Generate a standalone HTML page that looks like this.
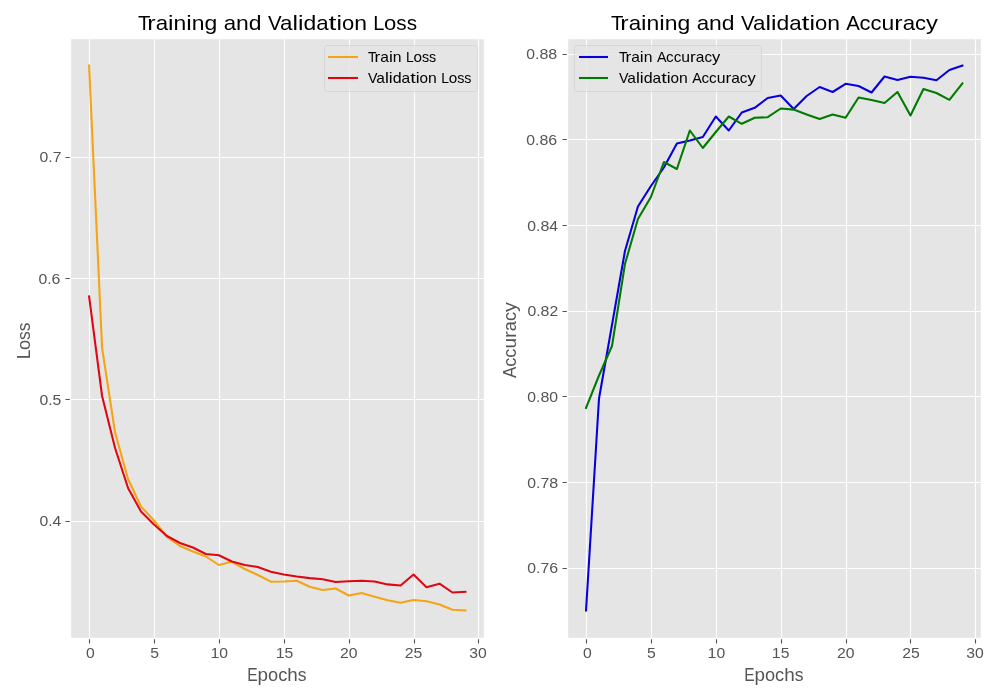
<!DOCTYPE html>
<html lang="en"><head><meta charset="utf-8"><title>Training and Validation Curves</title>
<style>html,body{margin:0;padding:0;background:#fff;}body{width:1000px;height:700px;overflow:hidden;}svg{display:block;will-change:transform;}text{font-family:"Liberation Sans",sans-serif;}</style>
</head><body>
<svg width="1000" height="700" viewBox="0 0 1000 700" role="img" aria-label="Training and validation loss and accuracy curves">
<rect x="0" y="0" width="1000" height="700" fill="#ffffff"/>
<g id="axes1">
<rect x="71.19" y="39.19" width="412.62" height="598.62" fill="#E5E5E5"/>
<path d="M89.5 39.19V637.81M154.5 39.19V637.81M219.5 39.19V637.81M284.5 39.19V637.81M349.5 39.19V637.81M414.5 39.19V637.81M478.5 39.19V637.81M71.19 157.5H483.81M71.19 278.5H483.81M71.19 399.5H483.81M71.19 521.5H483.81" stroke="#ffffff" stroke-width="1.11" fill="none"/>
<path d="M89.5 639.19V643.5M154.5 639.19V643.5M219.5 639.19V643.5M284.5 639.19V643.5M349.5 639.19V643.5M414.5 639.19V643.5M478.5 639.19V643.5M65.49 157.5H69.81M65.49 278.5H69.81M65.49 399.5H69.81M65.49 521.5H69.81" stroke="#555555" stroke-width="1.11" fill="none"/>
<clipPath id="clip0"><rect x="71.19" y="39.19" width="412.62" height="598.62"/></clipPath>
<g clip-path="url(#clip0)" fill="none" stroke-width="2.08" stroke-linejoin="round" stroke-linecap="square">
<polyline points="89.10,65.57 102.08,348.00 115.06,432.50 128.03,479.00 141.01,506.50 153.99,520.50 166.97,537.00 179.95,546.00 192.92,551.50 205.90,556.50 218.88,565.00 231.86,561.80 244.84,569.00 257.81,575.00 270.79,581.70 283.77,581.50 296.75,580.70 309.73,586.80 322.70,590.00 335.68,588.50 348.66,595.50 361.64,593.00 374.62,596.80 387.59,600.20 400.57,602.80 413.55,600.00 426.53,601.30 439.51,604.50 452.48,609.80 465.46,610.48" stroke="#F5A414"/>
<polyline points="89.10,296.50 102.08,396.00 115.06,448.00 128.03,488.00 141.01,511.50 153.99,524.50 166.97,536.00 179.95,543.00 192.92,547.50 205.90,554.00 218.88,555.30 231.86,561.50 244.84,565.00 257.81,567.00 270.79,571.80 283.77,574.50 296.75,576.50 309.73,578.10 322.70,579.30 335.68,582.00 348.66,581.20 361.64,580.80 374.62,581.50 387.59,584.40 400.57,585.50 413.55,574.50 426.53,587.20 439.51,583.70 452.48,592.50 465.46,591.80" stroke="#DE0814"/>
</g>
<rect x="324.5" y="45.5" width="153.00" height="46.00" rx="2.78" ry="2.78" fill="#E5E5E5" fill-opacity="0.8" stroke="#CCCCCC" stroke-opacity="0.8" stroke-width="0.69"/>
<path d="M329.04 57.00H356.96" stroke="#F5A414" stroke-width="2.08" stroke-linecap="square" fill="none"/>
<text y="61.90" font-size="14.2" fill="#000000"><tspan x="368.08" textLength="8.50" lengthAdjust="spacingAndGlyphs">T</tspan><tspan x="374.58" textLength="5.75" lengthAdjust="spacingAndGlyphs">r</tspan><tspan x="380.33" textLength="8.63" lengthAdjust="spacingAndGlyphs">a</tspan><tspan x="388.96" textLength="3.87" lengthAdjust="spacingAndGlyphs">i</tspan><tspan x="392.83" textLength="8.75" lengthAdjust="spacingAndGlyphs">n</tspan><tspan x="405.96" textLength="7.74" lengthAdjust="spacingAndGlyphs">L</tspan><tspan x="413.46" textLength="8.50" lengthAdjust="spacingAndGlyphs">o</tspan><tspan x="421.96" textLength="7.12" lengthAdjust="spacingAndGlyphs">s</tspan><tspan x="429.08" textLength="7.12" lengthAdjust="spacingAndGlyphs">s</tspan></text>
<path d="M329.04 78.00H356.96" stroke="#DE0814" stroke-width="2.08" stroke-linecap="square" fill="none"/>
<text y="82.85" font-size="14.2" fill="#000000"><tspan x="367.93" textLength="9.50" lengthAdjust="spacingAndGlyphs">V</tspan><tspan x="376.31" textLength="8.62" lengthAdjust="spacingAndGlyphs">a</tspan><tspan x="384.93" textLength="3.88" lengthAdjust="spacingAndGlyphs">l</tspan><tspan x="388.81" textLength="3.87" lengthAdjust="spacingAndGlyphs">i</tspan><tspan x="392.68" textLength="8.87" lengthAdjust="spacingAndGlyphs">d</tspan><tspan x="401.55" textLength="8.63" lengthAdjust="spacingAndGlyphs">a</tspan><tspan x="410.18" textLength="5.50" lengthAdjust="spacingAndGlyphs">t</tspan><tspan x="415.68" textLength="3.87" lengthAdjust="spacingAndGlyphs">i</tspan><tspan x="419.55" textLength="8.50" lengthAdjust="spacingAndGlyphs">o</tspan><tspan x="428.05" textLength="8.76" lengthAdjust="spacingAndGlyphs">n</tspan><tspan x="441.18" textLength="7.75" lengthAdjust="spacingAndGlyphs">L</tspan><tspan x="448.68" textLength="8.50" lengthAdjust="spacingAndGlyphs">o</tspan><tspan x="457.18" textLength="7.13" lengthAdjust="spacingAndGlyphs">s</tspan><tspan x="464.31" textLength="7.12" lengthAdjust="spacingAndGlyphs">s</tspan></text>
<text y="658.00" font-size="14.2" fill="#555555"><tspan x="86.07" textLength="8.75" lengthAdjust="spacingAndGlyphs">0</tspan></text>
<text y="658.20" font-size="14.2" fill="#555555"><tspan x="150.16" textLength="8.75" lengthAdjust="spacingAndGlyphs">5</tspan></text>
<text y="657.75" font-size="14.2" fill="#555555"><tspan x="210.42" textLength="8.88" lengthAdjust="spacingAndGlyphs">1</tspan><tspan x="219.30" textLength="8.74" lengthAdjust="spacingAndGlyphs">0</tspan></text>
<text y="658.00" font-size="14.2" fill="#555555"><tspan x="275.66" textLength="8.88" lengthAdjust="spacingAndGlyphs">1</tspan><tspan x="284.54" textLength="8.74" lengthAdjust="spacingAndGlyphs">5</tspan></text>
<text y="657.80" font-size="14.2" fill="#555555"><tspan x="339.91" textLength="8.75" lengthAdjust="spacingAndGlyphs">2</tspan><tspan x="348.66" textLength="8.75" lengthAdjust="spacingAndGlyphs">0</tspan></text>
<text y="658.05" font-size="14.2" fill="#555555"><tspan x="404.85" textLength="8.75" lengthAdjust="spacingAndGlyphs">2</tspan><tspan x="413.60" textLength="8.75" lengthAdjust="spacingAndGlyphs">5</tspan></text>
<text y="658.00" font-size="14.2" fill="#555555"><tspan x="469.39" textLength="8.75" lengthAdjust="spacingAndGlyphs">3</tspan><tspan x="478.14" textLength="8.75" lengthAdjust="spacingAndGlyphs">0</tspan></text>
<text y="162.30" font-size="14.2" fill="#555555"><tspan x="39.63" textLength="8.75" lengthAdjust="spacingAndGlyphs">0</tspan><tspan x="48.38" textLength="4.37" lengthAdjust="spacingAndGlyphs">.</tspan><tspan x="52.75" textLength="8.76" lengthAdjust="spacingAndGlyphs">7</tspan></text>
<text y="284.00" font-size="14.2" fill="#555555"><tspan x="38.41" textLength="8.75" lengthAdjust="spacingAndGlyphs">0</tspan><tspan x="47.16" textLength="4.37" lengthAdjust="spacingAndGlyphs">.</tspan><tspan x="51.53" textLength="8.88" lengthAdjust="spacingAndGlyphs">6</tspan></text>
<text y="405.30" font-size="14.2" fill="#555555"><tspan x="39.43" textLength="8.75" lengthAdjust="spacingAndGlyphs">0</tspan><tspan x="48.18" textLength="4.37" lengthAdjust="spacingAndGlyphs">.</tspan><tspan x="52.55" textLength="8.76" lengthAdjust="spacingAndGlyphs">5</tspan></text>
<text y="525.90" font-size="14.2" fill="#555555"><tspan x="39.43" textLength="8.75" lengthAdjust="spacingAndGlyphs">0</tspan><tspan x="48.18" textLength="4.37" lengthAdjust="spacingAndGlyphs">.</tspan><tspan x="52.55" textLength="8.76" lengthAdjust="spacingAndGlyphs">4</tspan></text>
<text y="680.50" font-size="17.6" fill="#555555"><tspan x="247.19" textLength="10.38" lengthAdjust="spacingAndGlyphs">E</tspan><tspan x="257.57" textLength="10.50" lengthAdjust="spacingAndGlyphs">p</tspan><tspan x="268.07" textLength="10.12" lengthAdjust="spacingAndGlyphs">o</tspan><tspan x="278.19" textLength="9.12" lengthAdjust="spacingAndGlyphs">c</tspan><tspan x="287.31" textLength="10.50" lengthAdjust="spacingAndGlyphs">h</tspan><tspan x="297.81" textLength="8.76" lengthAdjust="spacingAndGlyphs">s</tspan></text>
<text transform="translate(30.00,359.04) rotate(-90)" y="0" font-size="17.6" fill="#555555"><tspan x="0.00" textLength="9.25" lengthAdjust="spacingAndGlyphs">L</tspan><tspan x="9.00" textLength="10.12" lengthAdjust="spacingAndGlyphs">o</tspan><tspan x="19.12" textLength="8.76" lengthAdjust="spacingAndGlyphs">s</tspan><tspan x="27.88" textLength="8.74" lengthAdjust="spacingAndGlyphs">s</tspan></text>
<text y="29.60" font-size="20.4" fill="#000000"><tspan x="137.92" textLength="12.38" lengthAdjust="spacingAndGlyphs">T</tspan><tspan x="147.30" textLength="8.37" lengthAdjust="spacingAndGlyphs">r</tspan><tspan x="155.67" textLength="12.37" lengthAdjust="spacingAndGlyphs">a</tspan><tspan x="168.04" textLength="5.50" lengthAdjust="spacingAndGlyphs">i</tspan><tspan x="173.54" textLength="12.76" lengthAdjust="spacingAndGlyphs">n</tspan><tspan x="186.30" textLength="5.50" lengthAdjust="spacingAndGlyphs">i</tspan><tspan x="191.80" textLength="12.74" lengthAdjust="spacingAndGlyphs">n</tspan><tspan x="204.54" textLength="12.76" lengthAdjust="spacingAndGlyphs">g</tspan><tspan x="223.67" textLength="12.37" lengthAdjust="spacingAndGlyphs">a</tspan><tspan x="236.04" textLength="12.76" lengthAdjust="spacingAndGlyphs">n</tspan><tspan x="248.80" textLength="12.74" lengthAdjust="spacingAndGlyphs">d</tspan><tspan x="267.92" textLength="13.62" lengthAdjust="spacingAndGlyphs">V</tspan><tspan x="280.04" textLength="12.38" lengthAdjust="spacingAndGlyphs">a</tspan><tspan x="292.42" textLength="5.50" lengthAdjust="spacingAndGlyphs">l</tspan><tspan x="297.92" textLength="5.50" lengthAdjust="spacingAndGlyphs">i</tspan><tspan x="303.42" textLength="12.75" lengthAdjust="spacingAndGlyphs">d</tspan><tspan x="316.17" textLength="12.37" lengthAdjust="spacingAndGlyphs">a</tspan><tspan x="328.54" textLength="7.88" lengthAdjust="spacingAndGlyphs">t</tspan><tspan x="336.42" textLength="5.50" lengthAdjust="spacingAndGlyphs">i</tspan><tspan x="341.92" textLength="12.25" lengthAdjust="spacingAndGlyphs">o</tspan><tspan x="354.17" textLength="12.75" lengthAdjust="spacingAndGlyphs">n</tspan><tspan x="373.30" textLength="11.12" lengthAdjust="spacingAndGlyphs">L</tspan><tspan x="384.04" textLength="12.26" lengthAdjust="spacingAndGlyphs">o</tspan><tspan x="396.30" textLength="10.37" lengthAdjust="spacingAndGlyphs">s</tspan><tspan x="406.67" textLength="10.37" lengthAdjust="spacingAndGlyphs">s</tspan></text>
</g>
<g id="axes2">
<rect x="568.19" y="39.19" width="412.62" height="598.62" fill="#E5E5E5"/>
<path d="M586.5 39.19V637.81M651.5 39.19V637.81M716.5 39.19V637.81M781.5 39.19V637.81M846.5 39.19V637.81M910.5 39.19V637.81M975.5 39.19V637.81M568.19 54.5H980.81M568.19 139.5H980.81M568.19 225.5H980.81M568.19 311.5H980.81M568.19 396.5H980.81M568.19 482.5H980.81M568.19 568.5H980.81" stroke="#ffffff" stroke-width="1.11" fill="none"/>
<path d="M586.5 639.19V643.5M651.5 639.19V643.5M716.5 639.19V643.5M781.5 639.19V643.5M846.5 639.19V643.5M910.5 639.19V643.5M975.5 639.19V643.5M562.49 54.5H566.81M562.49 139.5H566.81M562.49 225.5H566.81M562.49 311.5H566.81M562.49 396.5H566.81M562.49 482.5H566.81M562.49 568.5H566.81" stroke="#555555" stroke-width="1.11" fill="none"/>
<clipPath id="clip1"><rect x="568.19" y="39.19" width="412.62" height="598.62"/></clipPath>
<g clip-path="url(#clip1)" fill="none" stroke-width="2.08" stroke-linejoin="round" stroke-linecap="square">
<polyline points="586.03,610.48 599.01,398.50 611.99,325.00 624.96,251.00 637.94,206.50 650.92,186.00 663.90,167.50 676.88,143.50 689.85,140.50 702.83,137.00 715.81,116.50 728.79,130.50 741.77,112.50 754.74,107.80 767.72,98.00 780.70,95.50 793.68,109.00 806.66,96.00 819.63,87.00 832.61,92.00 845.59,83.80 858.57,86.00 871.55,92.50 884.52,76.50 897.50,80.00 910.48,76.80 923.46,77.80 936.44,80.20 949.41,70.00 962.39,65.57" stroke="#0800DC"/>
<polyline points="586.03,408.00 599.01,375.50 611.99,346.00 624.96,264.00 637.94,219.00 650.92,197.00 663.90,162.00 676.88,169.00 689.85,130.50 702.83,148.00 715.81,132.00 728.79,116.50 741.77,123.80 754.74,117.80 767.72,117.20 780.70,108.50 793.68,109.60 806.66,114.40 819.63,119.00 832.61,114.50 845.59,117.80 858.57,97.50 871.55,100.00 884.52,103.00 897.50,92.00 910.48,115.50 923.46,89.00 936.44,93.00 949.41,99.80 962.39,83.50" stroke="#007A00"/>
</g>
<rect x="574.5" y="45.5" width="187.00" height="46.00" rx="2.78" ry="2.78" fill="#E5E5E5" fill-opacity="0.8" stroke="#CCCCCC" stroke-opacity="0.8" stroke-width="0.69"/>
<path d="M580.04 57.00H606.96" stroke="#0800DC" stroke-width="2.08" stroke-linecap="square" fill="none"/>
<text y="61.90" font-size="14.2" fill="#000000"><tspan x="619.00" textLength="8.50" lengthAdjust="spacingAndGlyphs">T</tspan><tspan x="625.50" textLength="5.75" lengthAdjust="spacingAndGlyphs">r</tspan><tspan x="631.25" textLength="8.63" lengthAdjust="spacingAndGlyphs">a</tspan><tspan x="639.88" textLength="3.87" lengthAdjust="spacingAndGlyphs">i</tspan><tspan x="643.75" textLength="8.75" lengthAdjust="spacingAndGlyphs">n</tspan><tspan x="656.88" textLength="9.50" lengthAdjust="spacingAndGlyphs">A</tspan><tspan x="666.12" textLength="7.63" lengthAdjust="spacingAndGlyphs">c</tspan><tspan x="673.75" textLength="7.63" lengthAdjust="spacingAndGlyphs">c</tspan><tspan x="681.38" textLength="8.74" lengthAdjust="spacingAndGlyphs">u</tspan><tspan x="690.12" textLength="5.76" lengthAdjust="spacingAndGlyphs">r</tspan><tspan x="695.88" textLength="8.62" lengthAdjust="spacingAndGlyphs">a</tspan><tspan x="704.50" textLength="7.62" lengthAdjust="spacingAndGlyphs">c</tspan><tspan x="712.12" textLength="8.26" lengthAdjust="spacingAndGlyphs">y</tspan></text>
<path d="M580.04 78.00H606.96" stroke="#007A00" stroke-width="2.08" stroke-linecap="square" fill="none"/>
<text y="82.85" font-size="14.2" fill="#000000"><tspan x="618.95" textLength="9.50" lengthAdjust="spacingAndGlyphs">V</tspan><tspan x="627.33" textLength="8.62" lengthAdjust="spacingAndGlyphs">a</tspan><tspan x="635.95" textLength="3.88" lengthAdjust="spacingAndGlyphs">l</tspan><tspan x="639.83" textLength="3.87" lengthAdjust="spacingAndGlyphs">i</tspan><tspan x="643.70" textLength="8.87" lengthAdjust="spacingAndGlyphs">d</tspan><tspan x="652.57" textLength="8.63" lengthAdjust="spacingAndGlyphs">a</tspan><tspan x="661.20" textLength="5.50" lengthAdjust="spacingAndGlyphs">t</tspan><tspan x="666.70" textLength="3.87" lengthAdjust="spacingAndGlyphs">i</tspan><tspan x="670.57" textLength="8.50" lengthAdjust="spacingAndGlyphs">o</tspan><tspan x="679.07" textLength="8.76" lengthAdjust="spacingAndGlyphs">n</tspan><tspan x="692.20" textLength="9.50" lengthAdjust="spacingAndGlyphs">A</tspan><tspan x="701.45" textLength="7.62" lengthAdjust="spacingAndGlyphs">c</tspan><tspan x="709.07" textLength="7.63" lengthAdjust="spacingAndGlyphs">c</tspan><tspan x="716.70" textLength="8.75" lengthAdjust="spacingAndGlyphs">u</tspan><tspan x="725.45" textLength="5.75" lengthAdjust="spacingAndGlyphs">r</tspan><tspan x="731.20" textLength="8.63" lengthAdjust="spacingAndGlyphs">a</tspan><tspan x="739.83" textLength="7.62" lengthAdjust="spacingAndGlyphs">c</tspan><tspan x="747.45" textLength="8.25" lengthAdjust="spacingAndGlyphs">y</tspan></text>
<text y="658.00" font-size="14.2" fill="#555555"><tspan x="583.06" textLength="8.75" lengthAdjust="spacingAndGlyphs">0</tspan></text>
<text y="658.20" font-size="14.2" fill="#555555"><tspan x="647.10" textLength="8.75" lengthAdjust="spacingAndGlyphs">5</tspan></text>
<text y="657.70" font-size="14.2" fill="#555555"><tspan x="707.55" textLength="8.88" lengthAdjust="spacingAndGlyphs">1</tspan><tspan x="716.43" textLength="8.74" lengthAdjust="spacingAndGlyphs">0</tspan></text>
<text y="658.00" font-size="14.2" fill="#555555"><tspan x="771.79" textLength="8.88" lengthAdjust="spacingAndGlyphs">1</tspan><tspan x="780.67" textLength="8.74" lengthAdjust="spacingAndGlyphs">5</tspan></text>
<text y="657.80" font-size="14.2" fill="#555555"><tspan x="836.90" textLength="8.75" lengthAdjust="spacingAndGlyphs">2</tspan><tspan x="845.65" textLength="8.75" lengthAdjust="spacingAndGlyphs">0</tspan></text>
<text y="658.05" font-size="14.2" fill="#555555"><tspan x="902.24" textLength="8.75" lengthAdjust="spacingAndGlyphs">2</tspan><tspan x="910.99" textLength="8.75" lengthAdjust="spacingAndGlyphs">5</tspan></text>
<text y="658.00" font-size="14.2" fill="#555555"><tspan x="966.23" textLength="8.75" lengthAdjust="spacingAndGlyphs">3</tspan><tspan x="974.98" textLength="8.75" lengthAdjust="spacingAndGlyphs">0</tspan></text>
<text y="59.00" font-size="14.2" fill="#555555"><tspan x="526.31" textLength="8.75" lengthAdjust="spacingAndGlyphs">0</tspan><tspan x="535.06" textLength="4.37" lengthAdjust="spacingAndGlyphs">.</tspan><tspan x="539.43" textLength="8.88" lengthAdjust="spacingAndGlyphs">8</tspan><tspan x="548.31" textLength="8.88" lengthAdjust="spacingAndGlyphs">8</tspan></text>
<text y="145.00" font-size="14.2" fill="#555555"><tspan x="526.36" textLength="8.75" lengthAdjust="spacingAndGlyphs">0</tspan><tspan x="535.11" textLength="4.37" lengthAdjust="spacingAndGlyphs">.</tspan><tspan x="539.48" textLength="8.88" lengthAdjust="spacingAndGlyphs">8</tspan><tspan x="548.36" textLength="8.88" lengthAdjust="spacingAndGlyphs">6</tspan></text>
<text y="231.00" font-size="14.2" fill="#555555"><tspan x="527.39" textLength="8.75" lengthAdjust="spacingAndGlyphs">0</tspan><tspan x="536.14" textLength="4.37" lengthAdjust="spacingAndGlyphs">.</tspan><tspan x="540.51" textLength="8.88" lengthAdjust="spacingAndGlyphs">8</tspan><tspan x="549.39" textLength="8.75" lengthAdjust="spacingAndGlyphs">4</tspan></text>
<text y="315.90" font-size="14.2" fill="#555555"><tspan x="527.44" textLength="8.75" lengthAdjust="spacingAndGlyphs">0</tspan><tspan x="536.19" textLength="4.37" lengthAdjust="spacingAndGlyphs">.</tspan><tspan x="540.56" textLength="8.88" lengthAdjust="spacingAndGlyphs">8</tspan><tspan x="549.44" textLength="8.75" lengthAdjust="spacingAndGlyphs">2</tspan></text>
<text y="402.00" font-size="14.2" fill="#555555"><tspan x="527.29" textLength="8.75" lengthAdjust="spacingAndGlyphs">0</tspan><tspan x="536.04" textLength="4.37" lengthAdjust="spacingAndGlyphs">.</tspan><tspan x="540.41" textLength="8.88" lengthAdjust="spacingAndGlyphs">8</tspan><tspan x="549.29" textLength="8.75" lengthAdjust="spacingAndGlyphs">0</tspan></text>
<text y="488.20" font-size="14.2" fill="#555555"><tspan x="527.39" textLength="8.75" lengthAdjust="spacingAndGlyphs">0</tspan><tspan x="536.14" textLength="4.37" lengthAdjust="spacingAndGlyphs">.</tspan><tspan x="540.51" textLength="8.76" lengthAdjust="spacingAndGlyphs">7</tspan><tspan x="549.27" textLength="8.87" lengthAdjust="spacingAndGlyphs">8</tspan></text>
<text y="573.00" font-size="14.2" fill="#555555"><tspan x="527.39" textLength="8.75" lengthAdjust="spacingAndGlyphs">0</tspan><tspan x="536.14" textLength="4.37" lengthAdjust="spacingAndGlyphs">.</tspan><tspan x="540.51" textLength="8.76" lengthAdjust="spacingAndGlyphs">7</tspan><tspan x="549.27" textLength="8.87" lengthAdjust="spacingAndGlyphs">6</tspan></text>
<text y="680.50" font-size="17.6" fill="#555555"><tspan x="744.13" textLength="10.38" lengthAdjust="spacingAndGlyphs">E</tspan><tspan x="754.51" textLength="10.50" lengthAdjust="spacingAndGlyphs">p</tspan><tspan x="765.01" textLength="10.12" lengthAdjust="spacingAndGlyphs">o</tspan><tspan x="775.13" textLength="9.12" lengthAdjust="spacingAndGlyphs">c</tspan><tspan x="784.25" textLength="10.50" lengthAdjust="spacingAndGlyphs">h</tspan><tspan x="794.75" textLength="8.76" lengthAdjust="spacingAndGlyphs">s</tspan></text>
<text transform="translate(516.20,377.97) rotate(-90)" y="0" font-size="17.6" fill="#555555"><tspan x="0.00" textLength="11.38" lengthAdjust="spacingAndGlyphs">A</tspan><tspan x="11.12" textLength="9.13" lengthAdjust="spacingAndGlyphs">c</tspan><tspan x="20.25" textLength="9.13" lengthAdjust="spacingAndGlyphs">c</tspan><tspan x="29.38" textLength="10.50" lengthAdjust="spacingAndGlyphs">u</tspan><tspan x="39.88" textLength="6.87" lengthAdjust="spacingAndGlyphs">r</tspan><tspan x="46.75" textLength="10.13" lengthAdjust="spacingAndGlyphs">a</tspan><tspan x="56.88" textLength="9.12" lengthAdjust="spacingAndGlyphs">c</tspan><tspan x="66.00" textLength="9.88" lengthAdjust="spacingAndGlyphs">y</tspan></text>
<text y="29.60" font-size="20.4" fill="#000000"><tspan x="610.97" textLength="12.38" lengthAdjust="spacingAndGlyphs">T</tspan><tspan x="620.35" textLength="8.37" lengthAdjust="spacingAndGlyphs">r</tspan><tspan x="628.72" textLength="12.37" lengthAdjust="spacingAndGlyphs">a</tspan><tspan x="641.09" textLength="5.50" lengthAdjust="spacingAndGlyphs">i</tspan><tspan x="646.59" textLength="12.76" lengthAdjust="spacingAndGlyphs">n</tspan><tspan x="659.35" textLength="5.50" lengthAdjust="spacingAndGlyphs">i</tspan><tspan x="664.85" textLength="12.74" lengthAdjust="spacingAndGlyphs">n</tspan><tspan x="677.59" textLength="12.76" lengthAdjust="spacingAndGlyphs">g</tspan><tspan x="696.72" textLength="12.37" lengthAdjust="spacingAndGlyphs">a</tspan><tspan x="709.09" textLength="12.76" lengthAdjust="spacingAndGlyphs">n</tspan><tspan x="721.85" textLength="12.74" lengthAdjust="spacingAndGlyphs">d</tspan><tspan x="740.97" textLength="13.62" lengthAdjust="spacingAndGlyphs">V</tspan><tspan x="753.09" textLength="12.38" lengthAdjust="spacingAndGlyphs">a</tspan><tspan x="765.47" textLength="5.50" lengthAdjust="spacingAndGlyphs">l</tspan><tspan x="770.97" textLength="5.50" lengthAdjust="spacingAndGlyphs">i</tspan><tspan x="776.47" textLength="12.75" lengthAdjust="spacingAndGlyphs">d</tspan><tspan x="789.22" textLength="12.37" lengthAdjust="spacingAndGlyphs">a</tspan><tspan x="801.59" textLength="7.88" lengthAdjust="spacingAndGlyphs">t</tspan><tspan x="809.47" textLength="5.50" lengthAdjust="spacingAndGlyphs">i</tspan><tspan x="814.97" textLength="12.25" lengthAdjust="spacingAndGlyphs">o</tspan><tspan x="827.22" textLength="12.75" lengthAdjust="spacingAndGlyphs">n</tspan><tspan x="846.35" textLength="13.62" lengthAdjust="spacingAndGlyphs">A</tspan><tspan x="859.59" textLength="11.00" lengthAdjust="spacingAndGlyphs">c</tspan><tspan x="870.59" textLength="11.00" lengthAdjust="spacingAndGlyphs">c</tspan><tspan x="881.59" textLength="12.76" lengthAdjust="spacingAndGlyphs">u</tspan><tspan x="894.35" textLength="8.37" lengthAdjust="spacingAndGlyphs">r</tspan><tspan x="902.72" textLength="12.37" lengthAdjust="spacingAndGlyphs">a</tspan><tspan x="915.09" textLength="11.00" lengthAdjust="spacingAndGlyphs">c</tspan><tspan x="926.09" textLength="11.88" lengthAdjust="spacingAndGlyphs">y</tspan></text>
</g>
</svg></body></html>
